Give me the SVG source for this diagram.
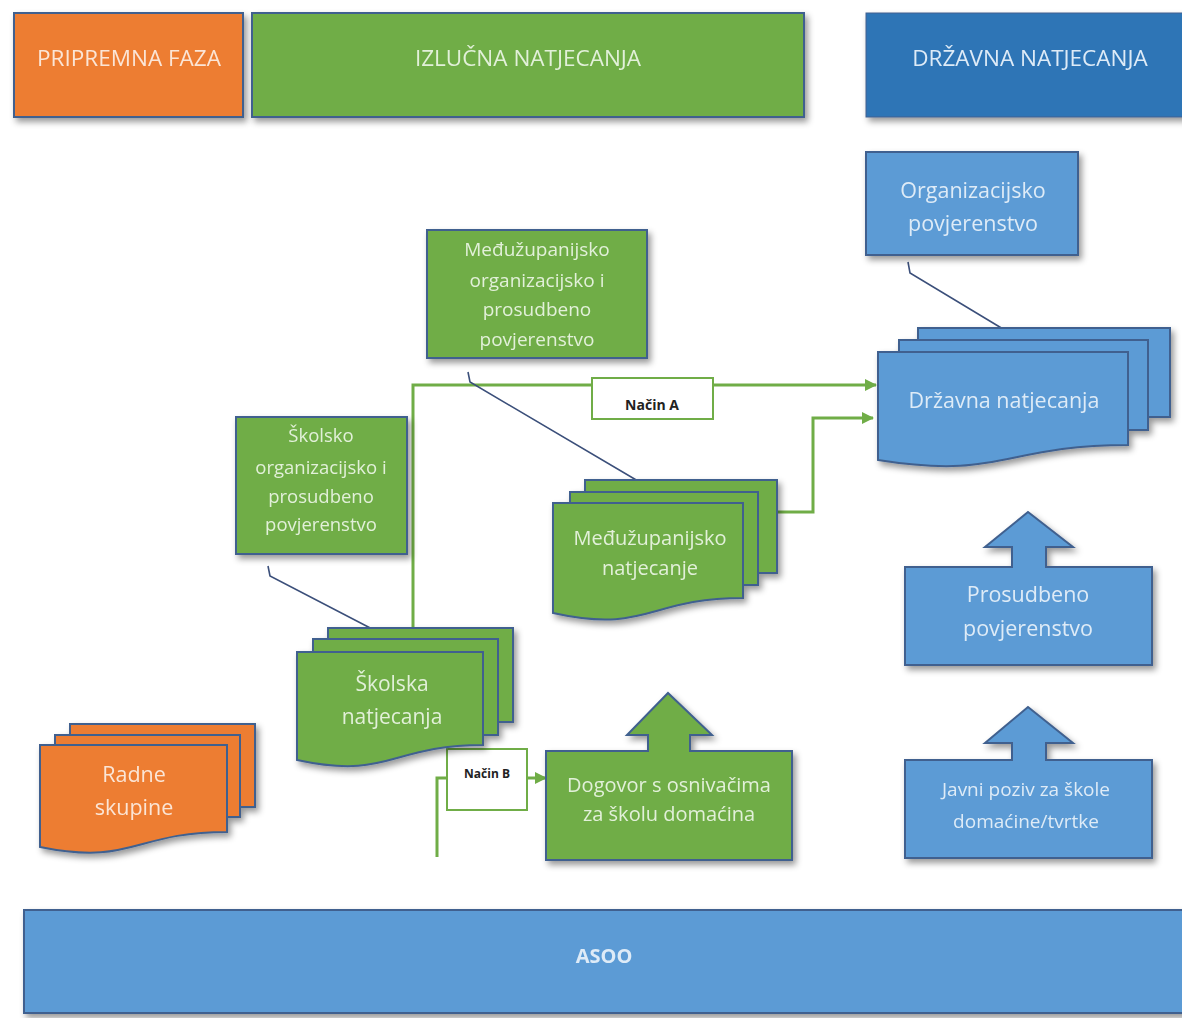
<svg xmlns="http://www.w3.org/2000/svg" width="1182" height="1018" viewBox="0 0 1182 1018">
<defs>
  <filter id="sh" x="-10%" y="-10%" width="125%" height="130%">
    <feDropShadow dx="3" dy="4" stdDeviation="3" flood-color="#000" flood-opacity="0.4"/>
  </filter>
  <marker id="ga" viewBox="0 0 12 12" refX="11" refY="6" markerWidth="12" markerHeight="12" markerUnits="userSpaceOnUse" orient="auto">
    <path d="M0,0 L12,6 L0,12 Z" fill="#70AD47"/>
  </marker>
  <style>
    .or{fill:#ED7D31;stroke:#41618F;stroke-width:2}
    .gr{fill:#70AD47;stroke:#41618F;stroke-width:2}
    .bl{fill:#5B9BD5;stroke:#41618F;stroke-width:2}
    .db{fill:#2E75B6;stroke:#41618F;stroke-width:1}
    .t{font-family:"Open Sans","Noto Sans",sans-serif;text-anchor:middle;dominant-baseline:central}
    .tg{fill:#E2F0D9}
    .tb{fill:#DEEBF7}
    .to{fill:#FBE5D6}
    .gl{fill:none;stroke:#70AD47;stroke-width:3}
    .cl{fill:none;stroke:#3B4F7A;stroke-width:1.6}
    .lbl{fill:#fff;stroke:#70AD47;stroke-width:2}
    .lt{font-family:"Open Sans","Noto Sans",sans-serif;font-weight:bold;fill:#222;text-anchor:middle;dominant-baseline:central}
  </style>
</defs>
<rect width="1182" height="1018" fill="#fff"/>

<!-- Header phases -->
<g id="pripremna-faza" filter="url(#sh)">
  <rect class="or" x="14" y="13" width="229" height="104"/>
  <text class="t to" x="129" y="57" font-size="22.5">PRIPREMNA FAZA</text>
</g>
<g id="izlucna-natjecanja" filter="url(#sh)">
  <rect class="gr" x="252" y="13" width="552" height="104"/>
  <text class="t tg" x="528" y="57" font-size="22.5">IZLUČNA NATJECANJA</text>
</g>
<g id="drzavna-natjecanja-header" filter="url(#sh)">
  <rect class="db" x="866" y="13" width="320" height="104"/>
  <text class="t tb" x="1030" y="57" font-size="22.5">DRŽAVNA NATJECANJA</text>
</g>

<!-- Connectors -->
<g id="connectors">
  <path class="gl" d="M413,627 V385 H876" marker-end="url(#ga)"/>
  <path class="gl" d="M778,512 H813 V418 H873" marker-end="url(#ga)"/>
  <path class="gl" d="M437,857 V778 H449"/>
  <path class="gl" d="M527,778 H546" marker-end="url(#ga)"/>
  <path class="cl" d="M908,262 L910,273 L1018,338"/>
  <path class="cl" d="M468,372 L470,382 L660,494"/>
  <path class="cl" d="M268,566 L270,576 L403,645"/>
  <g id="nacin-a">
    <rect class="lbl" x="592" y="378" width="121" height="41"/>
    <text class="lt" x="652" y="404" font-size="14">Način A</text>
  </g>
  <g id="nacin-b">
    <rect class="lbl" x="447" y="749" width="80" height="61"/>
    <text class="lt" x="487" y="773" font-size="12">Način B</text>
  </g>
</g>

<!-- Organizacijsko povjerenstvo -->
<g id="organizacijsko-povjerenstvo" filter="url(#sh)">
  <rect class="bl" x="866" y="152" width="212" height="103"/>
  <text class="t tb" x="973" y="189" font-size="21.5">Organizacijsko</text>
  <text class="t tb" x="973" y="222" font-size="21.5">povjerenstvo</text>
</g>

<!-- Državna natjecanja (multi-document) -->
<g id="drzavna-natjecanja" filter="url(#sh)">
  <rect class="bl" x="918" y="328" width="252" height="89"/>
  <rect class="bl" x="899" y="340" width="249" height="90"/>
  <path class="bl" d="M878,352 H1128 V445 C1003,445 1003,480 878,460 Z"/>
  <text class="t tb" x="1004" y="399" font-size="21.5">Državna natjecanja</text>
</g>

<!-- Međužupanijsko organizacijsko i prosudbeno povjerenstvo -->
<g id="medjuzupanijsko-povjerenstvo" filter="url(#sh)">
  <rect class="gr" x="427" y="230" width="220" height="128"/>
  <text class="t tg" x="537" y="249" font-size="19">Međužupanijsko</text>
  <text class="t tg" x="537" y="280" font-size="19">organizacijsko i</text>
  <text class="t tg" x="537" y="309" font-size="19">prosudbeno</text>
  <text class="t tg" x="537" y="339" font-size="19">povjerenstvo</text>
</g>

<!-- Školsko organizacijsko i prosudbeno povjerenstvo -->
<g id="skolsko-povjerenstvo" filter="url(#sh)">
  <rect class="gr" x="236" y="417" width="171" height="137"/>
  <text class="t tg" x="321" y="434" font-size="18.5">Školsko</text>
  <text class="t tg" x="321" y="466" font-size="18.5">organizacijsko i</text>
  <text class="t tg" x="321" y="495" font-size="18.5">prosudbeno</text>
  <text class="t tg" x="321" y="523" font-size="18.5">povjerenstvo</text>
</g>

<!-- Međužupanijsko natjecanje -->
<g id="medjuzupanijsko-natjecanje" filter="url(#sh)">
  <rect class="gr" x="585" y="480" width="192" height="93"/>
  <rect class="gr" x="570" y="492" width="188" height="93"/>
  <path class="gr" d="M553,503 H743 V598 C648,598 648,634 553,613 Z"/>
  <text class="t tg" x="650" y="537" font-size="20">Međužupanijsko</text>
  <text class="t tg" x="650" y="567" font-size="20">natjecanje</text>
</g>

<!-- Školska natjecanja -->
<g id="skolska-natjecanja" filter="url(#sh)">
  <rect class="gr" x="328" y="628" width="185" height="94"/>
  <rect class="gr" x="313" y="639" width="185" height="96"/>
  <path class="gr" d="M297,652 H483 V745 C390,745 390,780 297,760 Z"/>
  <text class="t tg" x="392" y="683" font-size="21">Školska</text>
  <text class="t tg" x="392" y="716" font-size="21">natjecanja</text>
</g>

<!-- Radne skupine -->
<g id="radne-skupine" filter="url(#sh)">
  <rect class="or" x="70" y="724" width="185" height="83"/>
  <rect class="or" x="55" y="735" width="185" height="82"/>
  <path class="or" d="M40,745 H227 V832 C133,832 133,866 40,847 Z"/>
  <text class="t to" x="134" y="773" font-size="21.5">Radne</text>
  <text class="t to" x="134" y="806" font-size="21.5">skupine</text>
</g>

<!-- Dogovor s osnivačima -->
<g id="dogovor" filter="url(#sh)">
  <path class="gr" d="M546,751 H648 V735 H627 L668,693 L712,735 H690 V751 H792 V860 H546 Z"/>
  <text class="t tg" x="669" y="784" font-size="20">Dogovor s osnivačima</text>
  <text class="t tg" x="669" y="813" font-size="20">za školu domaćina</text>
</g>

<!-- Prosudbeno povjerenstvo -->
<g id="prosudbeno-povjerenstvo" filter="url(#sh)">
  <path class="bl" d="M905,567 H1012 V547 H985 L1028,512 L1073,547 H1046 V567 H1152 V665 H905 Z"/>
  <text class="t tb" x="1028" y="593" font-size="21.5">Prosudbeno</text>
  <text class="t tb" x="1028" y="627" font-size="21.5">povjerenstvo</text>
</g>

<!-- Javni poziv -->
<g id="javni-poziv" filter="url(#sh)">
  <path class="bl" d="M905,760 H1012 V743 H985 L1028,707 L1073,743 H1046 V760 H1152 V858 H905 Z"/>
  <text class="t tb" x="1026" y="789" font-size="19">Javni poziv za škole</text>
  <text class="t tb" x="1026" y="821" font-size="19">domaćine/tvrtke</text>
</g>

<!-- ASOO -->
<g id="asoo" filter="url(#sh)">
  <rect class="bl" x="24" y="910" width="1162" height="103"/>
  <text class="t tb" x="604" y="955" font-size="20" font-weight="bold">ASOO</text>
</g>
</svg>
